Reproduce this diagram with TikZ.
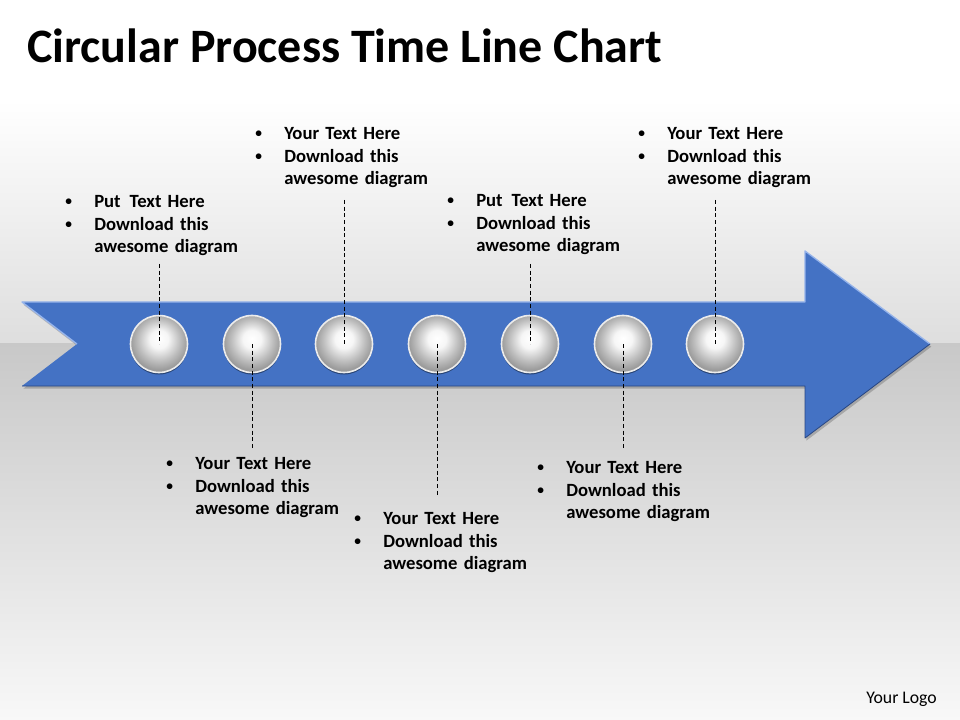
\documentclass[tikz,border=0pt]{standalone}
\usepackage{fontspec}
\setmainfont{Carlito}
\usepackage{tikz}
\usetikzlibrary{positioning, shadows, calc}

\definecolor{arrowblue}{RGB}{68,114,196}
\definecolor{arrowlight}{RGB}{150,180,235}
\definecolor{arrowdark}{RGB}{40,70,130}
\definecolor{bgtop}{RGB}{222,222,222}
\definecolor{bgmid}{RGB}{200,200,200}
\definecolor{bgbot}{RGB}{248,248,248}

\pgfdeclareradialshading{beadshade}{\pgfpoint{0bp}{5bp}}{%
  color(0bp)=(white);
  color(8bp)=(white!93!gray);
  color(18bp)=(gray!50);
  color(25bp)=(gray!78);
  color(50bp)=(gray!78)}

\tikzset{
	titletext/.style={font=\fontsize{36}{40}\selectfont\bfseries, inner sep=0pt, anchor=base west}
}
\tikzset{
	bodytext/.style={font=\fontsize{14}{16.9}\selectfont\bfseries, text width=150pt,
			align=left, inner sep=0pt, anchor=base west}
}
\tikzset{
	bead/.style={circle, minimum size=42.75pt, inner sep=0pt, shading=beadshade,
			draw=white!85!gray, line width=1.2pt,
			drop shadow={shadow xshift=0pt, shadow yshift=-1.5pt, fill=black, opacity=0.4}}
}
\tikzset{
	leader/.style={black, line width=0.6pt, dash pattern=on 3pt off 2pt}
}

\newcommand{\bul}{\makebox[22.5pt][l]{\hspace{0.8pt}\raisebox{0.09em}{\scalebox{0.72}{\textbullet}}}}
\newcommand{\ind}{\hspace*{22.5pt}}
\newcommand{\putgap}{\hspace{0.15em}}

\begin{document}
\begin{tikzpicture}[x=0.75pt, y=-0.75pt]

	\useasboundingbox (0,0) rectangle (960,720);

	% background
	\begin{scope}
		\fill[white] (0,0) rectangle (960,100);
		\shade[top color=white, bottom color=bgtop] (0,100) rectangle (960,343);
		\shade[top color=bgmid, bottom color=bgbot] (0,343) rectangle (960,720);
	\end{scope}

	\node[titletext] (title) at (27,63) {Circular Process Time Line Chart};

	% arrow
	\begin{scope}
		\coordinate (aA) at (22,302);
		\coordinate (aB) at (805,302);
		\coordinate (aC) at (805,251);
		\coordinate (aD) at (930,344);
		\coordinate (aE) at (805,438);
		\coordinate (aF) at (805,386);
		\coordinate (aG) at (22,386);
		\coordinate (aH) at (77,344);

		\fill[arrowblue, drop shadow={shadow xshift=1pt, shadow yshift=-2pt, fill=black, opacity=0.2}]
		(aA) -- (aB) -- (aC) -- (aD) -- (aE) -- (aF) -- (aG) -- (aH) -- cycle;
		\draw[arrowlight, line width=1pt, line join=round] (aH) -- (aA) -- (aB) -- (aC) -- (aD);
		\draw[arrowdark, line width=0.6pt, line join=round] (aD) -- (aE) -- (aF) -- (aG);
	\end{scope}

	% beads
	\begin{scope}
		\node[bead] (c1) at (159,344) {};
		\node[bead] (c2) at (252,344) {};
		\node[bead] (c3) at (344,344) {};
		\node[bead] (c4) at (437,344) {};
		\node[bead] (c5) at (530,344) {};
		\node[bead] (c6) at (623,344) {};
		\node[bead] (c7) at (715,344) {};
	\end{scope}

	% text blocks
	\begin{scope}
		\node[bodytext] (t1) at (64,207.5) {\bul Put\putgap{} Text Here\\\bul Download this\\\ind awesome diagram};
		\node[bodytext] (t2) at (165,469.5) {\bul Your Text Here\\\bul Download this\\\ind awesome diagram};
		\node[bodytext] (t3) at (254,139.5) {\bul Your Text Here\\\bul Download this\\\ind awesome diagram};
		\node[bodytext] (t4) at (353,524.5) {\bul Your Text Here\\\bul Download this\\\ind awesome diagram};
		\node[bodytext] (t5) at (446,206.5) {\bul Put\putgap{} Text Here\\\bul Download this\\\ind awesome diagram};
		\node[bodytext] (t6) at (536,473.5) {\bul Your Text Here\\\bul Download this\\\ind awesome diagram};
		\node[bodytext] (t7) at (637,139.5) {\bul Your Text Here\\\bul Download this\\\ind awesome diagram};
	\end{scope}

	% leaders
	\begin{scope}
		\coordinate (d1) at (159,264);
		\coordinate (d2) at (252,450);
		\coordinate (d3) at (344,200);
		\coordinate (d4) at (437,497);
		\coordinate (d5) at (530,264);
		\coordinate (d6) at (623,450);
		\coordinate (d7) at (715,200);

		\draw[leader] (d1) -- (c1.center);
		\draw[leader] (c2.center) -- (d2);
		\draw[leader] (d3) -- (c3.center);
		\draw[leader] (c4.center) -- (d4);
		\draw[leader] (d5) -- (c5.center);
		\draw[leader] (c6.center) -- (d6);
		\draw[leader] (d7) -- (c7.center);
	\end{scope}

	\node[font=\fontsize{13.3}{15}\selectfont, inner sep=0pt, anchor=base west] (logo) at (866,703) {Your Logo};

\end{tikzpicture}
\end{document}
